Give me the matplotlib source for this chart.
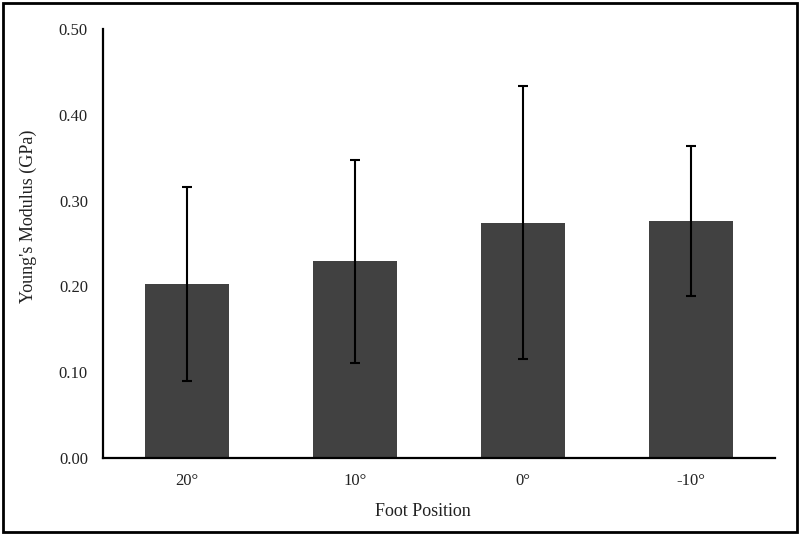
import matplotlib.pyplot as plt
from matplotlib.patches import Rectangle

# data
positions = ['20°', '10°', '0°', '-10°']
modulus = [0.203, 0.229, 0.274, 0.276]
err = [0.113, 0.118, 0.159, 0.087]
yticks = [0.00, 0.10, 0.20, 0.30, 0.40, 0.50]

plt.rcParams['font.family'] = ['Liberation Serif', 'DejaVu Serif']

fig = plt.figure(figsize=(8, 5.35), dpi=100)
ax = fig.add_axes([0.129, 0.144, 0.840, 0.802])

x = range(len(positions))
ax.bar(x, modulus, width=0.5, color='#414141', zorder=2)
ax.errorbar(x, modulus, yerr=err, fmt='none', ecolor='black',
            elinewidth=1.5, capsize=3.5, capthick=1.5, zorder=3)

ax.set_xlim(-0.5, 3.5)
ax.set_ylim(0, 0.5)
ax.set_xticks(list(x))
ax.set_xticklabels(positions)
ax.set_yticks(yticks)
ax.set_yticklabels(['%.2f' % t for t in yticks])
ax.tick_params(axis='both', length=0, labelsize=12, colors='#222222')
ax.tick_params(axis='y', pad=11)
ax.tick_params(axis='x', pad=11)

for s in ['top', 'right']:
    ax.spines[s].set_visible(False)
ax.spines['left'].set_linewidth(1.6)
ax.spines['bottom'].set_linewidth(1.6)

ax.set_ylabel("Young's Modulus (GPa)", fontsize=13, color='#222222')
ax.set_xlabel('Foot Position', fontsize=13, color='#222222')
ax.yaxis.set_label_coords(-0.099, 0.564)
ax.xaxis.set_label_coords(0.475, -0.105)

# border around the whole figure
fig.patches.append(Rectangle((0.004, 0.005), 0.992, 0.99, transform=fig.transFigure,
                             fill=False, edgecolor='black', linewidth=2))

fig.savefig('out.png', dpi=100)
